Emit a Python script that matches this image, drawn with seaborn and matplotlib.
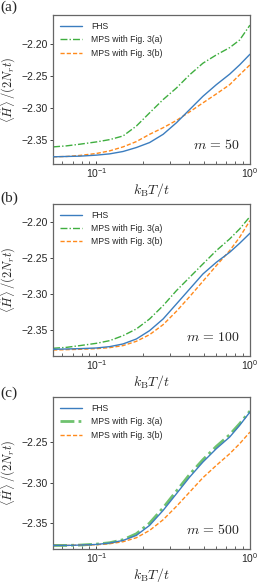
import numpy as np
import pandas as pd
import matplotlib
matplotlib.use("Agg")
import matplotlib.pyplot as plt
import seaborn as sns

# temperature grid (k_B T / t)
temps = [0.0522, 0.0638, 0.0779, 0.1, 0.122, 0.149, 0.182, 0.222, 0.272, 0.332,
         0.405, 0.494, 0.604, 0.738, 0.857, 1.0]

# panel (a), m = 50
fhs_a = [-2.3766, -2.3761, -2.3756, -2.3740, -2.3720, -2.3683, -2.3621, -2.3543, -2.3414, -2.3233,
         -2.3026, -2.2819, -2.2637, -2.2472, -2.2327, -2.2161]
mps_a_a = [-2.3611, -2.3595, -2.3569, -2.3533, -2.3497, -2.3440, -2.3285, -2.3078, -2.2870, -2.2689,
           -2.2482, -2.2301, -2.2171, -2.2057, -2.1938, -2.1705]
mps_b_a = [-2.3766, -2.3761, -2.3745, -2.3714, -2.3673, -2.3611, -2.3528, -2.3414, -2.3311, -2.3197,
           -2.3062, -2.2922, -2.2782, -2.2637, -2.2482, -2.2327]

# panel (b), m = 100
fhs_b = [-2.3767, -2.3763, -2.3758, -2.3749, -2.3730, -2.3693, -2.3624, -2.3508, -2.3346, -2.3138,
         -2.2930, -2.2722, -2.2560, -2.2421, -2.2296, -2.2157]
mps_a_b = [-2.3753, -2.3740, -2.3716, -2.3684, -2.3647, -2.3578, -2.3485, -2.3346, -2.3161, -2.2953,
           -2.2768, -2.2583, -2.2398, -2.2236, -2.2097, -2.1926]
mps_b_b = [-2.3777, -2.3772, -2.3767, -2.3758, -2.3744, -2.3716, -2.3656, -2.3564, -2.3425, -2.3240,
           -2.3036, -2.2823, -2.2606, -2.2398, -2.2213, -2.1981]

# panel (c), m = 500
fhs_c = [-2.3771, -2.3771, -2.3767, -2.3759, -2.3742, -2.3710, -2.3648, -2.3525, -2.3341, -2.3137,
         -2.2932, -2.2748, -2.2584, -2.2441, -2.2298, -2.2134]
mps_a_c = [-2.3771, -2.3771, -2.3767, -2.3755, -2.3738, -2.3701, -2.3628, -2.3497, -2.3309, -2.3104,
           -2.2899, -2.2719, -2.2556, -2.2412, -2.2277, -2.2122]
mps_b_c = [-2.3771, -2.3771, -2.3767, -2.3763, -2.3750, -2.3726, -2.3677, -2.3587, -2.3456, -2.3292,
           -2.3116, -2.2940, -2.2789, -2.2646, -2.2523, -2.2380]

series_names = ["FHS", "MPS with Fig. 3(a)", "MPS with Fig. 3(b)"]
panel_tags = ["(a)", "(b)", "(c)"]
m_values = [50, 100, 500]
ylims = [(-2.388, -2.155), (-2.386, -2.175), (-2.3816, -2.195)]
yticks = [[-2.35, -2.30, -2.25, -2.20], [-2.35, -2.30, -2.25, -2.20], [-2.35, -2.30, -2.25]]

panels = [(fhs_a, mps_a_a, mps_b_a), (fhs_b, mps_a_b, mps_b_b), (fhs_c, mps_a_c, mps_b_c)]

sns.set_style("ticks")
plt.rcParams["font.family"] = ["Liberation Sans", "DejaVu Sans"]
plt.rcParams["mathtext.fontset"] = "cm"

colors = {"FHS": "#3b7dbf", "MPS with Fig. 3(a)": "#3fae3f", "MPS with Fig. 3(b)": "#ff8a1c"}
dashes = {"FHS": "", "MPS with Fig. 3(a)": (5, 1.5, 1, 1.5), "MPS with Fig. 3(b)": (3, 1.5)}

fig = plt.figure(figsize=(2.59, 5.86), dpi=100)
boxes = [[0.205, 0.720, 0.76, 0.254], [0.205, 0.3925, 0.76, 0.2595], [0.205, 0.063, 0.76, 0.2595]]
tag_y = [0.999, 0.674, 0.340]

for i, (vals, box) in enumerate(zip(panels, boxes)):
    ax = fig.add_axes(box)
    df = pd.DataFrame({
        "T": temps * 3,
        "E": vals[0] + vals[1] + vals[2],
        "series": np.repeat(series_names, len(temps)),
    })
    widths = [1.0, 1.0, 1.0] if i < 2 else [1.0, 2.0, 1.0]
    for name, lw in zip(series_names, widths):
        sub = df[df["series"] == name]
        alpha = 0.75 if (i == 2 and name == series_names[1]) else 1.0
        sns.lineplot(data=sub, x="T", y="E", ax=ax, color=colors[name], lw=lw,
                     dashes=False, label=name, alpha=alpha, zorder=3 if name == "FHS" else 2)
        ln = ax.get_lines()[-1]
        if dashes[name]:
            ln.set_dashes(dashes[name])
    ax.set_xscale("log")
    ax.set_xlim(0.0522, 1.0)
    ax.set_ylim(*ylims[i])
    ax.set_yticks(yticks[i])
    ax.set_yticklabels([f"{v:.2f}".replace("-", "\u2212") for v in yticks[i]])
    ax.tick_params(axis="both", labelsize=7.5, length=2.5, width=0.6, pad=1.5)
    ax.tick_params(axis="x", which="both", direction="in")
    ax.tick_params(axis="x", which="minor", length=2, width=0.5)
    for sp in ax.spines.values():
        sp.set_color("#666666")
        sp.set_linewidth(0.9)
    ax.set_xlabel(r"$k_{\mathrm{B}}T/t$", fontsize=10, labelpad=1)
    ax.set_ylabel(r"$\langle\hat{H}\rangle\,/(2N_r t)$", fontsize=9, labelpad=2)
    ax.text(0.95, 0.08, rf"$m\,=\,{m_values[i]}$", transform=ax.transAxes,
            ha="right", va="bottom", fontsize=10)
    leg = ax.legend(loc="upper left", frameon=False, fontsize=6.2, handlelength=2.6,
                    borderaxespad=0.4, labelspacing=0.5, handletextpad=1.0)
    fig.text(0.003, tag_y[i], panel_tags[i], ha="left", va="top", fontsize=11,
             family="Liberation Serif")

fig.savefig("out.png", dpi=100)
